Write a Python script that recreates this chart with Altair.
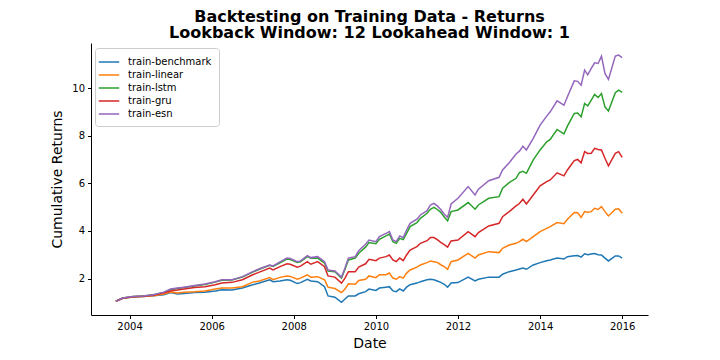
import altair as alt
import pandas as pd

# Month of each observation (YYYY-MM)
dates = [
    "2003-09", "2003-11", "2004-02", "2004-05", "2004-08", "2004-11", "2005-01", "2005-03",
    "2005-05", "2005-08", "2005-11", "2006-02", "2006-04", "2006-07", "2006-10", "2007-01",
    "2007-03", "2007-06", "2007-07", "2007-09", "2007-11", "2007-12", "2008-02", "2008-03",
    "2008-05", "2008-06", "2008-08", "2008-10", "2008-11", "2009-01", "2009-03", "2009-04",
    "2009-05", "2009-07", "2009-08", "2009-10", "2009-11", "2010-01", "2010-02", "2010-04",
    "2010-05", "2010-06", "2010-07", "2010-08", "2010-09", "2010-10", "2010-11", "2011-01",
    "2011-02", "2011-04", "2011-05", "2011-06", "2011-07", "2011-08", "2011-09", "2011-10",
    "2011-11", "2012-01", "2012-04", "2012-06", "2012-07", "2012-10", "2013-01", "2013-02",
    "2013-04", "2013-06", "2013-07", "2013-08", "2013-09", "2013-11", "2014-01", "2014-03",
    "2014-04", "2014-06", "2014-08", "2014-09", "2014-11", "2014-12", "2015-01", "2015-02",
    "2015-03", "2015-04", "2015-05", "2015-06", "2015-07", "2015-08", "2015-09", "2015-11",
    "2015-12", "2016-01",
]

esn = [
    1.05, 1.18, 1.25, 1.27, 1.32, 1.43, 1.56, 1.60,
    1.64, 1.71, 1.77, 1.87, 1.95, 1.95, 2.08, 2.29,
    2.41, 2.57, 2.53, 2.70, 2.86, 2.84, 2.71, 2.74,
    2.96, 2.88, 2.92, 2.71, 2.36, 2.32, 2.06, 2.44,
    2.86, 2.92, 3.17, 3.44, 3.62, 3.55, 3.76, 3.90,
    3.97, 3.62, 3.55, 3.79, 3.72, 4.04, 4.32, 4.49,
    4.67, 4.85, 5.09, 5.16, 5.05, 4.90, 4.70, 4.57,
    5.13, 5.37, 5.86, 5.51, 5.75, 6.11, 6.25, 6.56,
    6.86, 7.23, 7.35, 7.56, 7.40, 7.89, 8.44, 8.82,
    9.00, 9.46, 9.28, 9.63, 10.30, 10.28, 10.12, 10.75,
    10.55, 10.82, 11.06, 11.03, 11.34, 10.61, 10.36, 11.34,
    11.38, 11.28,
]

lstm = [
    1.05, 1.18, 1.25, 1.27, 1.32, 1.42, 1.54, 1.58,
    1.62, 1.69, 1.75, 1.85, 1.93, 1.94, 2.06, 2.27,
    2.39, 2.56, 2.51, 2.66, 2.82, 2.80, 2.68, 2.70,
    2.92, 2.85, 2.86, 2.65, 2.32, 2.29, 2.02, 2.39,
    2.78, 2.86, 3.06, 3.32, 3.51, 3.46, 3.65, 3.79,
    3.87, 3.55, 3.48, 3.69, 3.64, 3.90, 4.18, 4.35,
    4.53, 4.74, 4.91, 4.99, 4.90, 4.78, 4.58, 4.42,
    4.81, 4.88, 5.19, 4.91, 5.09, 5.37, 5.44, 5.79,
    6.03, 6.21, 6.45, 6.50, 6.42, 6.98, 7.40, 7.74,
    7.84, 8.26, 8.07, 8.40, 8.93, 8.95, 8.79, 9.35,
    9.25, 9.49, 9.73, 9.60, 9.77, 9.21, 9.03, 9.80,
    9.91, 9.82,
]

gru = [
    1.05, 1.17, 1.24, 1.26, 1.30, 1.40, 1.48, 1.52,
    1.56, 1.62, 1.66, 1.74, 1.81, 1.84, 1.95, 2.16,
    2.27, 2.44, 2.36, 2.50, 2.62, 2.60, 2.48, 2.52,
    2.71, 2.60, 2.71, 2.50, 2.11, 2.06, 1.81, 2.02,
    2.29, 2.29, 2.48, 2.62, 2.81, 2.75, 2.86, 2.92,
    2.99, 2.78, 2.71, 2.86, 2.75, 2.99, 3.20, 3.34,
    3.48, 3.59, 3.72, 3.72, 3.63, 3.52, 3.42, 3.32,
    3.58, 3.62, 3.97, 3.76, 3.93, 4.21, 4.32, 4.60,
    4.81, 5.05, 5.15, 5.33, 5.13, 5.51, 5.89, 6.07,
    6.14, 6.44, 6.31, 6.56, 6.95, 7.00, 6.86, 7.33,
    7.25, 7.26, 7.47, 7.42, 7.40, 7.05, 6.73, 7.26,
    7.33, 7.09,
]

linear = [
    1.05, 1.17, 1.23, 1.25, 1.28, 1.35, 1.43, 1.39,
    1.43, 1.45, 1.48, 1.56, 1.60, 1.60, 1.66, 1.85,
    1.90, 2.04, 1.95, 2.05, 2.11, 2.09, 1.97, 2.02,
    2.16, 2.06, 2.08, 1.95, 1.64, 1.58, 1.41, 1.56,
    1.78, 1.76, 1.92, 1.97, 2.11, 2.04, 2.16, 2.16,
    2.23, 2.02, 1.97, 2.08, 2.02, 2.23, 2.36, 2.48,
    2.57, 2.67, 2.74, 2.71, 2.68, 2.58, 2.50, 2.39,
    2.71, 2.78, 3.06, 2.86, 2.99, 3.13, 3.09, 3.27,
    3.41, 3.48, 3.55, 3.65, 3.55, 3.76, 3.97, 4.11,
    4.18, 4.35, 4.30, 4.49, 4.77, 4.76, 4.57, 4.81,
    4.78, 4.81, 4.95, 4.90, 5.02, 4.81, 4.63, 4.91,
    4.93, 4.74,
]

benchmark = [
    1.05, 1.17, 1.23, 1.25, 1.28, 1.32, 1.41, 1.35,
    1.37, 1.41, 1.43, 1.48, 1.53, 1.52, 1.60, 1.74,
    1.81, 1.95, 1.87, 1.90, 1.95, 1.93, 1.79, 1.83,
    1.97, 1.90, 1.87, 1.66, 1.27, 1.22, 1.00, 1.14,
    1.27, 1.27, 1.36, 1.45, 1.56, 1.50, 1.60, 1.64,
    1.66, 1.48, 1.45, 1.57, 1.48, 1.64, 1.74, 1.81,
    1.87, 1.95, 1.97, 1.95, 1.90, 1.84, 1.76, 1.64,
    1.81, 1.83, 2.06, 1.90, 1.97, 2.06, 2.06, 2.18,
    2.29, 2.36, 2.40, 2.44, 2.39, 2.57, 2.67, 2.75,
    2.78, 2.86, 2.82, 2.92, 2.96, 2.97, 2.90, 3.04,
    3.00, 3.03, 3.05, 3.00, 2.99, 2.86, 2.74, 2.95,
    2.95, 2.86,
]

series_names = ["train-benchmark", "train-linear", "train-lstm", "train-gru", "train-esn"]
series_values = [benchmark, linear, lstm, gru, esn]
colors = ["#1f77b4", "#ff7f0e", "#2ca02c", "#d62728", "#9467bd"]
year_ticks = [2004, 2006, 2008, 2010, 2012, 2014, 2016]
y_ticks = [2, 4, 6, 8, 10]

rows = []
for name, vals in zip(series_names, series_values):
    for d, v in zip(dates, vals):
        rows.append({"Date": d + "-01", "value": v, "series": name})
df = pd.DataFrame(rows)

FONT = "DejaVu Sans"

chart = (
    alt.Chart(df)
    .mark_line(strokeWidth=1.5)
    .encode(
        x=alt.X(
            "Date:T",
            title="Date",
            scale=alt.Scale(
                domain=[
                    alt.DateTime(year=2003, month=1, date=23),
                    alt.DateTime(year=2016, month=8, date=18),
                ],
                nice=False,
            ),
            axis=alt.Axis(
                values=[alt.DateTime(year=y, month=1, date=1) for y in year_ticks],
                format="%Y",
                grid=False,
                labelFontSize=10,
                titleFontSize=14,
                titlePadding=5,
                tickSize=3.5,
                labelPadding=3,
            ),
        ),
        y=alt.Y(
            "value:Q",
            title="Cumulative Returns",
            scale=alt.Scale(domain=[0.47, 11.89], nice=False, zero=False),
            axis=alt.Axis(
                values=y_ticks,
                grid=False,
                labelFontSize=10,
                titleFontSize=14,
                titlePadding=7,
                tickSize=3.5,
                labelPadding=3,
            ),
        ),
        color=alt.Color(
            "series:N",
            scale=alt.Scale(domain=series_names, range=colors),
            sort=series_names,
            legend=alt.Legend(
                title=None,
                orient="none",
                legendX=4,
                legendY=5,
                symbolType="M-1.7,0H1.7",
                symbolSize=144,
                symbolStrokeWidth=1.5,
                labelFontSize=10,
                labelOffset=12,
                rowPadding=1,
                padding=7,
                strokeColor="#cccccc",
                fillColor="white",
                cornerRadius=3,
            ),
        ),
    )
    .properties(
        width=557,
        height=272,
        title=alt.TitleParams(
            ["Backtesting on Training Data - Returns", "Lookback Window: 12 Lookahead Window: 1"],
            fontSize=16,
            fontWeight="bold",
            anchor="middle",
            lineHeight=16.5,
            offset=2,
            color="black",
        ),
        autosize=alt.AutoSizeParams(type="none"),
        padding={"left": 83, "top": 35, "right": 20, "bottom": 40},
    )
    .configure(font=FONT)
    .configure_view(stroke=None)
    .configure_axis(
        domainColor="black",
        tickColor="black",
        labelColor="black",
        titleColor="black",
        labelFont=FONT,
        titleFont=FONT,
        titleFontWeight="normal",
        domainWidth=1,
        tickWidth=1,
    )
    .configure_legend(labelFont=FONT, labelColor="black")
    .configure_title(font=FONT)
)

chart.save("out.html", embed_options={"renderer": "svg", "actions": False})
